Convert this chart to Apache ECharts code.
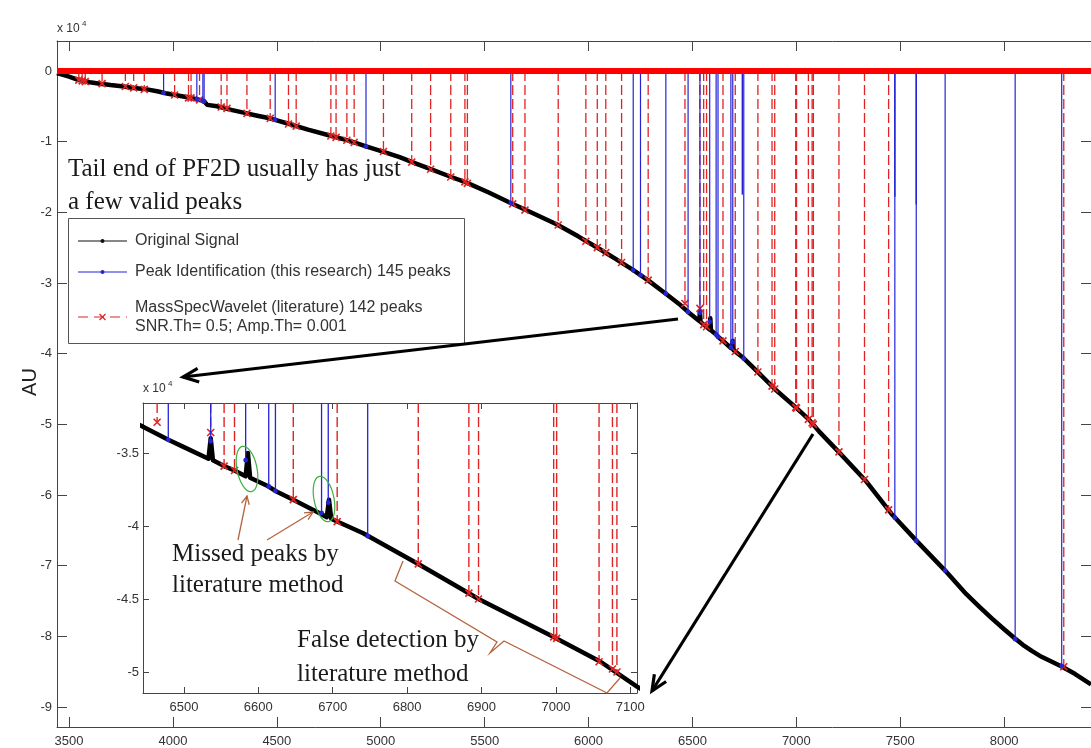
<!DOCTYPE html>
<html>
<head>
<meta charset="utf-8">
<script src="https://cdn.jsdelivr.net/npm/echarts@6/dist/echarts.min.js"></script>
<style>
  html, body { margin: 0; padding: 0; background: #fff; }
  #chart { width: 1091px; height: 748px; }
</style>
</head>
<body>
<div id="chart"></div>
<script>
// Original signal, [m/z, AU / 1e4]
const SIGNAL = [
  [3442,-0.03],[3500,-0.08],[3547,-0.13],[3600,-0.16],[3649,-0.18],[3700,-0.20],[3763,-0.22],
  [3811,-0.24],[3875,-0.26],[3930,-0.29],[3971,-0.32],[4030,-0.35],[4082,-0.38],[4130,-0.41],
  [4150,-0.43],[4165,-0.48],[4212,-0.50],[4280,-0.55],[4340,-0.59],[4400,-0.63],[4466,-0.67],
  [4500,-0.70],[4560,-0.75],[4650,-0.83],[4750,-0.91],[4850,-0.99],[4933,-1.07],[5010,-1.14],
  [5091,-1.22],[5170,-1.31],[5250,-1.40],[5330,-1.49],[5413,-1.58],[5520,-1.72],[5620,-1.86],
  [5730,-2.01],[5846,-2.17],[5950,-2.34],[6053,-2.52],[6130,-2.66],[6212,-2.81],[6290,-2.97],
  [6375,-3.16],[6445,-3.32],[6464,-3.37],[6479,-3.41],[6500,-3.46],[6533,-3.54],[6536,-3.40],
  [6539,-3.55],[6554,-3.59],[6568,-3.62],[6583,-3.66],[6586,-3.50],[6589,-3.67],[6614,-3.73],
  [6623,-3.76],[6647,-3.82],[6685,-3.92],[6692,-3.94],[6695,-3.82],[6698,-3.95],[6706,-3.97],
  [6741,-4.05],[6815,-4.26],[6876,-4.44],[6896,-4.50],[6997,-4.76],[7060,-4.93],[7109,-5.10],
  [7207,-5.40],[7337,-5.81],[7462,-6.28],[7582,-6.66],[7716,-7.07],[7817,-7.40],[7880,-7.58],
  [7942,-7.75],[8000,-7.90],[8048,-8.02],[8090,-8.12],[8135,-8.21],[8180,-8.29],[8230,-8.36],
  [8279,-8.43],[8340,-8.53],[8418,-8.68]
];

// Peak Identification (this research): [m/z, AU / 1e4]
const PEAKS_THIS = [
  [3955,-0.31],[4115,-0.40],[4144,-0.42],[4150,-0.43],[4492,-0.69],[4929,-1.07],[5626,-1.87],
  [6215,-2.82],[6250,-2.89],[6372,-3.15],[6479,-3.41],[6536,-3.42],[6583,-3.55],[6614,-3.73],
  [6623,-3.76],[6685,-3.91],[6694,-3.84],[6747,-4.07],[7474,-6.32],[7577,-6.65],[7716,-7.07],
  [8053,-8.04],[8277,-8.42]
];
// overlapping stems of the same method that stop part-way
const PEAKS_THIS_SHORT = [[6740,-1.75],[7474,-1.78],[7577,-1.89]];

// MassSpecWavelet (literature): [m/z, AU / 1e4]
const PEAKS_LIT = [
  [3547,-0.13],[3563,-0.14],[3578,-0.15],[3659,-0.18],[3771,-0.22],[3811,-0.24],[3862,-0.26],
  [4008,-0.34],[4075,-0.38],[4087,-0.38],[4128,-0.41],[4232,-0.51],[4260,-0.53],[4356,-0.60],
  [4468,-0.67],[4556,-0.75],[4593,-0.78],[4760,-0.92],[4785,-0.94],[4837,-0.98],[4872,-1.01],
  [5013,-1.14],[5149,-1.29],[5240,-1.39],[5337,-1.50],[5405,-1.57],[5417,-1.59],[5635,-1.88],
  [5694,-1.97],[5854,-2.18],[5987,-2.41],[6042,-2.50],[6083,-2.57],[6159,-2.71],[6287,-2.96],
  [6464,-3.29],[6536,-3.36],[6554,-3.59],[6568,-3.62],[6647,-3.82],[6706,-3.97],[6815,-4.26],
  [6883,-4.46],[6896,-4.50],[6997,-4.76],[7001,-4.77],[7058,-4.93],[7076,-4.98],[7082,-5.00],
  [7205,-5.39],[7328,-5.78],[7444,-6.21],[8287,-8.43]
];

const MAIN_X_RANGE = [3442, 8418];
const MAIN_Y_RANGE = [-9.283, 0.424];
const MAIN_X_TICKS = [3500, 4000, 4500, 5000, 5500, 6000, 6500, 7000, 7500, 8000];
const MAIN_Y_TICKS = [0, -1, -2, -3, -4, -5, -6, -7, -8, -9];

const INSET_X_RANGE = [6445, 7109];
const INSET_Y_RANGE = [-5.144, -3.158];
const INSET_X_TICKS = [6500, 6600, 6700, 6800, 6900, 7000, 7100];
const INSET_Y_TICKS = [-3.5, -4, -4.5, -5];

const LEGEND_LABELS = [
  'Original Signal',
  'Peak Identification (this research) 145 peaks',
  'MassSpecWavelet (literature) 142 peaks',
  'SNR.Th= 0.5; Amp.Th= 0.001'
];

const AXIS_COLOR = '#454545';
const LABEL_COLOR = '#333';
const SANS = '"Liberation Sans", Arial, sans-serif';
const SERIF = '"Liberation Serif", "Times New Roman", serif';
const RED = '#e02424';
const BLUE = '#2424d6';

// Stem drawn from the 0 baseline down to the value, clipped to its grid.
function stemRenderer(color, dash, mark, width) {
  return function (params, api) {
    const cs = params.coordSys;
    const x = api.value(0), v = api.value(1);
    const base = api.coord([x, 0]);
    const tip = api.coord([x, v]);
    const px = base[0];
    if (px < cs.x - 0.5 || px > cs.x + cs.width + 0.5) return null;
    const yTop = Math.max(base[1], cs.y);
    const yEnd = Math.min(tip[1], cs.y + cs.height);
    const children = [{
      type: 'line',
      shape: { x1: px, y1: yTop, x2: px, y2: yEnd },
      style: { stroke: color, lineWidth: width, lineDash: dash || null }
    }];
    if (mark === 'x') {
      children.push(
        { type: 'line', shape: { x1: px - 3.5, y1: yEnd - 3.5, x2: px + 3.5, y2: yEnd + 3.5 }, style: { stroke: color, lineWidth: 1.6 } },
        { type: 'line', shape: { x1: px - 3.5, y1: yEnd + 3.5, x2: px + 3.5, y2: yEnd - 3.5 }, style: { stroke: color, lineWidth: 1.6 } }
      );
    } else if (mark === 'dot') {
      children.push({ type: 'circle', shape: { cx: px, cy: yEnd, r: 2.4 }, style: { fill: color } });
    }
    return { type: 'group', children: children };
  };
}

const plainNumber = function (v) { return String(v); };

function valueAxis(opts) {
  return Object.assign({
    type: 'value',
    scale: true,
    splitLine: { show: false },
    axisLine: { show: true, onZero: false, lineStyle: { color: AXIS_COLOR, width: 1 } },
  }, opts);
}

function arrow(x1, y1, x2, y2, len, spread, color, width, z) {
  const a = Math.atan2(y2 - y1, x2 - x1);
  return [
    { type: 'polyline', z: z, shape: { points: [[x1, y1], [x2, y2]] }, style: { stroke: color, lineWidth: width, fill: null } },
    { type: 'polyline', z: z, shape: { points: [
        [x2 - len * Math.cos(a - spread), y2 - len * Math.sin(a - spread)],
        [x2, y2],
        [x2 - len * Math.cos(a + spread), y2 - len * Math.sin(a + spread)]
      ] }, style: { stroke: color, lineWidth: width, fill: null, lineJoin: 'miter' } }
  ];
}

const chart = echarts.init(document.getElementById('chart'));

const graphics = [
  // exponent labels
  { type: 'text', x: 57, y: 29, z: 10, style: { text: 'x 10', fontSize: 12, fontFamily: SANS, fill: LABEL_COLOR, verticalAlign: 'middle' } },
  { type: 'text', x: 82, y: 24, z: 10, style: { text: '4', fontSize: 8, fontFamily: SANS, fill: LABEL_COLOR, verticalAlign: 'middle' } },
  { type: 'text', x: 143, y: 389, z: 10, style: { text: 'x 10', fontSize: 12, fontFamily: SANS, fill: LABEL_COLOR, verticalAlign: 'middle' } },
  { type: 'text', x: 168, y: 384, z: 10, style: { text: '4', fontSize: 8, fontFamily: SANS, fill: LABEL_COLOR, verticalAlign: 'middle' } },

  // y axis title
  { type: 'text', x: 30, y: 382, z: 10, rotation: Math.PI / 2, style: { text: 'AU', fontSize: 20, fontFamily: SANS, fill: '#222', align: 'center', verticalAlign: 'middle' } },

  // inset panel background
  { type: 'rect', z: 5, shape: { x: 143, y: 403, width: 494, height: 290 }, style: { fill: '#fff' } },

  // legend
  { type: 'rect', z: 5, shape: { x: 68.5, y: 218.5, width: 396, height: 125 }, style: { fill: '#fff', stroke: '#555', lineWidth: 1 } },
  { type: 'line', z: 6, shape: { x1: 78, y1: 241, x2: 127, y2: 241 }, style: { stroke: '#111', lineWidth: 1.2 } },
  { type: 'circle', z: 6, shape: { cx: 102.5, cy: 241, r: 2 }, style: { fill: '#111' } },
  { type: 'line', z: 6, shape: { x1: 78, y1: 272, x2: 127, y2: 272 }, style: { stroke: BLUE, lineWidth: 1.2 } },
  { type: 'circle', z: 6, shape: { cx: 102.5, cy: 272, r: 2 }, style: { fill: BLUE } },
  { type: 'line', z: 6, shape: { x1: 78, y1: 317, x2: 127, y2: 317 }, style: { stroke: RED, lineWidth: 1.2, lineDash: [10, 6] } },
  { type: 'line', z: 6, shape: { x1: 99.5, y1: 314, x2: 105.5, y2: 320 }, style: { stroke: RED, lineWidth: 1.2 } },
  { type: 'line', z: 6, shape: { x1: 99.5, y1: 320, x2: 105.5, y2: 314 }, style: { stroke: RED, lineWidth: 1.2 } },
  { type: 'text', x: 135, y: 241, z: 6, style: { text: LEGEND_LABELS[0], fontSize: 16, fontFamily: SANS, fill: LABEL_COLOR, verticalAlign: 'middle' } },
  { type: 'text', x: 135, y: 272, z: 6, style: { text: LEGEND_LABELS[1], fontSize: 16, fontFamily: SANS, fill: LABEL_COLOR, verticalAlign: 'middle' } },
  { type: 'text', x: 135, y: 308, z: 6, style: { text: LEGEND_LABELS[2], fontSize: 16, fontFamily: SANS, fill: LABEL_COLOR, verticalAlign: 'middle' } },
  { type: 'text', x: 135, y: 327, z: 6, style: { text: LEGEND_LABELS[3], fontSize: 16, fontFamily: SANS, fill: LABEL_COLOR, verticalAlign: 'middle' } },

  // annotations
  { type: 'text', x: 68, y: 169, z: 10, style: { text: 'Tail end of PF2D usually has just', fontSize: 25, fontFamily: SERIF, fill: '#1a1a1a', verticalAlign: 'middle' } },
  { type: 'text', x: 68, y: 202, z: 10, style: { text: 'a few valid peaks', fontSize: 25, fontFamily: SERIF, fill: '#1a1a1a', verticalAlign: 'middle' } },
  { type: 'text', x: 172, y: 554, z: 10, style: { text: 'Missed peaks by', fontSize: 25, fontFamily: SERIF, fill: '#1a1a1a', verticalAlign: 'middle' } },
  { type: 'text', x: 172, y: 585, z: 10, style: { text: 'literature method', fontSize: 25, fontFamily: SERIF, fill: '#1a1a1a', verticalAlign: 'middle' } },
  { type: 'text', x: 297, y: 640, z: 10, style: { text: 'False detection by', fontSize: 25, fontFamily: SERIF, fill: '#1a1a1a', verticalAlign: 'middle' } },
  { type: 'text', x: 297, y: 674, z: 10, style: { text: 'literature method', fontSize: 25, fontFamily: SERIF, fill: '#1a1a1a', verticalAlign: 'middle' } },

  // highlighted missed peaks
  { type: 'ellipse', z: 9, x: 247, y: 469, rotation: 0.2, shape: { cx: 0, cy: 0, rx: 10, ry: 23 }, style: { fill: null, stroke: '#3cb043', lineWidth: 1.2 } },
  { type: 'ellipse', z: 9, x: 324, y: 499, rotation: 0.2, shape: { cx: 0, cy: 0, rx: 10, ry: 23 }, style: { fill: null, stroke: '#3cb043', lineWidth: 1.2 } },

  // brace under the false detections
  { type: 'polyline', z: 9, shape: { points: [[403, 561], [395, 581], [497, 642], [490, 653], [504, 641], [607, 693], [620, 678]] }, style: { stroke: '#b5643f', lineWidth: 1.3, fill: null } }
]
  .concat(arrow(238, 540, 247, 496, 9, 0.45, '#b5643f', 1.3, 9))
  .concat(arrow(267, 540, 313, 512, 9, 0.45, '#b5643f', 1.3, 9))
  .concat(arrow(678, 319, 183, 377, 17, 0.42, '#000', 3.2, 11))
  .concat(arrow(813, 434, 652, 691, 17, 0.42, '#000', 3.2, 11));

const option = {
  backgroundColor: '#fff',
  animation: false,
  grid: [
    { left: 57, top: 41, width: 1035, height: 687 },
    { left: 143, top: 403, width: 494, height: 290 }
  ],
  xAxis: [
    valueAxis({
      gridIndex: 0, position: 'bottom', min: MAIN_X_RANGE[0], max: MAIN_X_RANGE[1],
      axisTick: { inside: true, length: 10, customValues: MAIN_X_TICKS, lineStyle: { color: AXIS_COLOR } },
      axisLabel: { customValues: MAIN_X_TICKS, formatter: plainNumber, color: LABEL_COLOR, fontSize: 13, fontFamily: SANS, margin: 8 }
    }),
    valueAxis({
      gridIndex: 0, position: 'top', min: MAIN_X_RANGE[0], max: MAIN_X_RANGE[1],
      axisTick: { inside: true, length: 10, customValues: MAIN_X_TICKS, lineStyle: { color: AXIS_COLOR } },
      axisLabel: { show: false }
    }),
    valueAxis({
      gridIndex: 1, position: 'bottom', min: INSET_X_RANGE[0], max: INSET_X_RANGE[1], z: 6,
      axisTick: { inside: true, length: 6, customValues: INSET_X_TICKS, lineStyle: { color: AXIS_COLOR } },
      axisLabel: { customValues: INSET_X_TICKS, formatter: plainNumber, color: LABEL_COLOR, fontSize: 13, fontFamily: SANS, margin: 8 }
    }),
    valueAxis({
      gridIndex: 1, position: 'top', min: INSET_X_RANGE[0], max: INSET_X_RANGE[1], z: 6,
      axisTick: { inside: true, length: 6, customValues: INSET_X_TICKS, lineStyle: { color: AXIS_COLOR } },
      axisLabel: { show: false }
    })
  ],
  yAxis: [
    valueAxis({
      gridIndex: 0, position: 'left', min: MAIN_Y_RANGE[0], max: MAIN_Y_RANGE[1],
      axisTick: { inside: true, length: 10, customValues: MAIN_Y_TICKS, lineStyle: { color: AXIS_COLOR } },
      axisLabel: { customValues: MAIN_Y_TICKS, formatter: plainNumber, color: LABEL_COLOR, fontSize: 13, fontFamily: SANS, margin: 5 }
    }),
    valueAxis({
      gridIndex: 0, position: 'right', min: MAIN_Y_RANGE[0], max: MAIN_Y_RANGE[1],
      axisTick: { inside: true, length: 10, customValues: MAIN_Y_TICKS, lineStyle: { color: AXIS_COLOR } },
      axisLabel: { show: false }
    }),
    valueAxis({
      gridIndex: 1, position: 'left', min: INSET_Y_RANGE[0], max: INSET_Y_RANGE[1], z: 6,
      axisTick: { inside: true, length: 6, customValues: INSET_Y_TICKS, lineStyle: { color: AXIS_COLOR } },
      axisLabel: { customValues: INSET_Y_TICKS, formatter: plainNumber, color: LABEL_COLOR, fontSize: 13, fontFamily: SANS, margin: 4 }
    }),
    valueAxis({
      gridIndex: 1, position: 'right', min: INSET_Y_RANGE[0], max: INSET_Y_RANGE[1], z: 6,
      axisTick: { inside: true, length: 6, customValues: INSET_Y_TICKS, lineStyle: { color: AXIS_COLOR } },
      axisLabel: { show: false }
    })
  ],
  graphic: { elements: graphics },
  series: [
    // main panel
    { type: 'line', name: 'Original Signal', xAxisIndex: 0, yAxisIndex: 0, data: SIGNAL, z: 2,
      showSymbol: false, lineStyle: { color: '#000', width: 4.5, join: 'round' }, silent: true },
    { type: 'custom', name: 'MassSpecWavelet', xAxisIndex: 0, yAxisIndex: 0, data: PEAKS_LIT, z: 3,
      encode: { x: 0, y: 1 }, renderItem: stemRenderer(RED, [10, 4], 'x', 1.3), silent: true },
    { type: 'custom', name: 'Peak Identification', xAxisIndex: 0, yAxisIndex: 0, data: PEAKS_THIS, z: 3,
      encode: { x: 0, y: 1 }, renderItem: stemRenderer(BLUE, null, 'dot', 1.2), silent: true },
    { type: 'custom', name: 'Peak Identification (overlap)', xAxisIndex: 0, yAxisIndex: 0, data: PEAKS_THIS_SHORT, z: 3,
      encode: { x: 0, y: 1 }, renderItem: stemRenderer(BLUE, null, null, 1.4), silent: true },
    { type: 'line', name: 'Baseline', xAxisIndex: 0, yAxisIndex: 0, z: 4,
      data: [[MAIN_X_RANGE[0], 0], [MAIN_X_RANGE[1], 0]],
      showSymbol: false, lineStyle: { color: '#ff0000', width: 6 }, silent: true },

    // inset panel
    { type: 'line', name: 'Original Signal (zoom)', xAxisIndex: 2, yAxisIndex: 2, data: SIGNAL, z: 7, clip: true,
      showSymbol: false, lineStyle: { color: '#000', width: 4.5, join: 'round' }, silent: true },
    { type: 'custom', name: 'MassSpecWavelet (zoom)', xAxisIndex: 2, yAxisIndex: 2, data: PEAKS_LIT, z: 8,
      encode: { x: 0, y: 1 }, renderItem: stemRenderer(RED, [10, 4], 'x', 1.4), silent: true },
    { type: 'custom', name: 'Peak Identification (zoom)', xAxisIndex: 2, yAxisIndex: 2, data: PEAKS_THIS, z: 8,
      encode: { x: 0, y: 1 }, renderItem: stemRenderer(BLUE, null, 'dot', 1.3), silent: true }
  ]
};

chart.setOption(option);
</script>
</body>
</html>
